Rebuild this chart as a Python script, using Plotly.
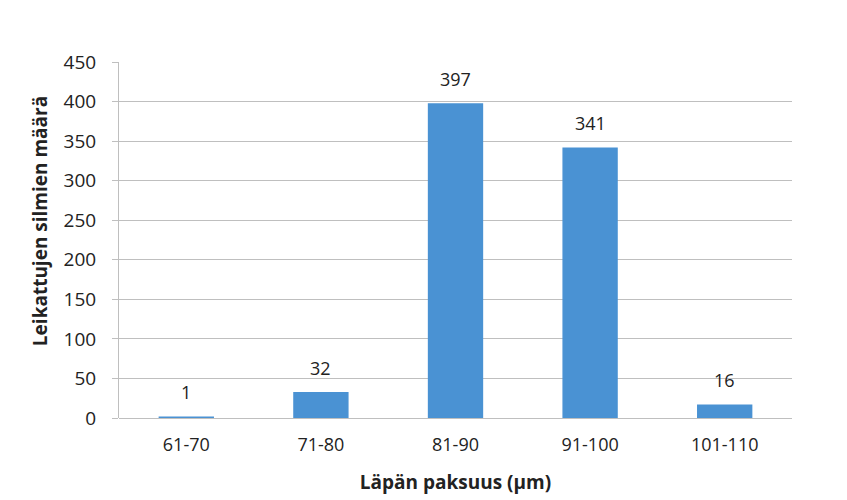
import plotly.graph_objects as go

categories = ["61-70", "71-80", "81-90", "91-100", "101-110"]
values = [1, 32, 397, 341, 16]
y_ticks = [0, 50, 100, 150, 200, 250, 300, 350, 400, 450]

font_family = "Open Sans"
text_color = "#222222"
bar_color = "#4a92d3"
fig = go.Figure(go.Bar(
    x=categories, y=values,
    marker=dict(color=bar_color, line=dict(color=bar_color, width=1.5)),
))
for c, v in zip(categories, values):
    fig.add_annotation(x=c, y=v, text=str(v), showarrow=False,
                       yanchor="bottom", yshift=11,
                       font=dict(family=font_family, size=18, color=text_color))
fig.add_annotation(
    text="<b>Leikattujen silmien määrä</b>", textangle=-90,
    xref="paper", yref="paper", x=0, y=0.553, xshift=-79,
    xanchor="center", yanchor="middle", showarrow=False,
    font=dict(family=font_family, size=19, color=text_color),
)
fig.update_layout(
    width=847, height=500,
    margin=dict(l=111, r=63, t=54, b=90),
    paper_bgcolor="white", plot_bgcolor="white",
    bargap=0.6,
    showlegend=False,
    font=dict(family=font_family, size=18, color=text_color),
)
fig.update_xaxes(
    showline=False, showgrid=False, ticks="",
    tickfont=dict(size=18), ticklabelstandoff=14,
    title=dict(text="Läpän paksuus (µm)", font=dict(size=19, family=font_family, weight="bold"), standoff=20),
)
fig.update_yaxes(
    range=[0, 450], tickvals=y_ticks,
    showgrid=True, gridcolor="#bfbfbf", gridwidth=1,
    showline=True, linecolor="#bfbfbf", linewidth=1,
    ticks="outside", ticklen=6, tickcolor="#bfbfbf",
    tickfont=dict(size=19), ticklabelstandoff=12,
    zeroline=True, zerolinecolor="#bfbfbf", zerolinewidth=1,
)
fig.write_html("out.html")
